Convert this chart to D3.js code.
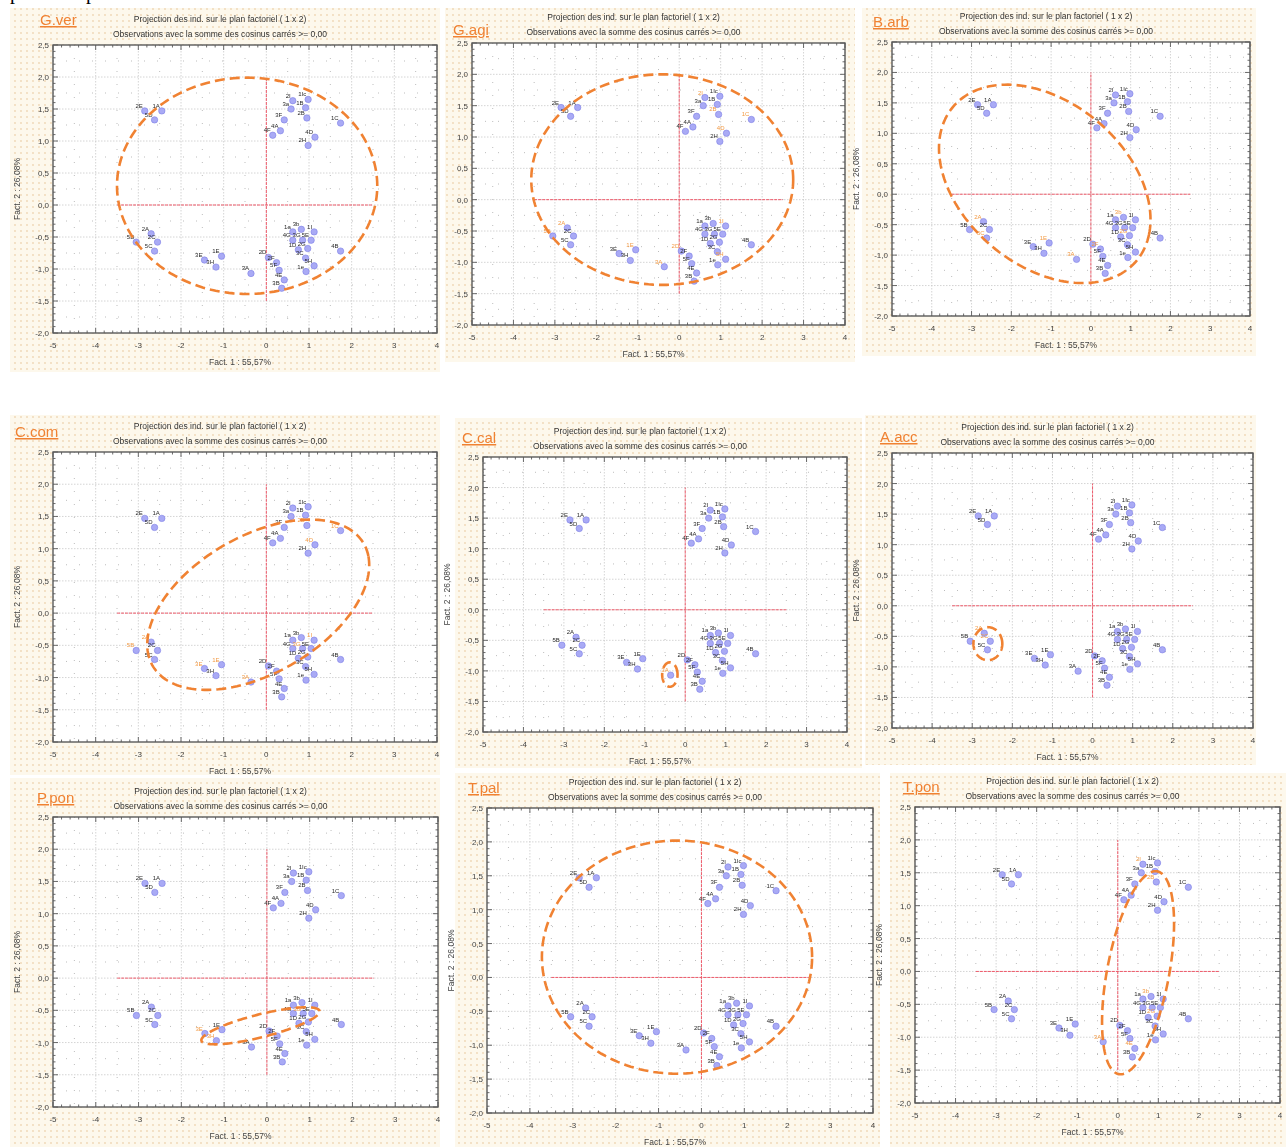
<!DOCTYPE html>
<html>
<head>
<meta charset="utf-8">
<script src="https://cdn.jsdelivr.net/npm/d3@7"></script>
<style>
  body { margin: 0; background: #fff; }
  svg { display: block; font-family: "Liberation Sans", Arial, sans-serif; }
</style>
</head>
<body>
<div id="chart"></div>
<script>
// species shown in each panel, left to right, top to bottom
const speciesNames = ["G.ver", "G.agi", "B.arb", "C.com", "C.cal", "A.acc", "P.pon", "T.pal", "T.pon"];

// individuals projected on the factorial plane (same in every panel)
const obsLabels = ["2E","1A","5D","4F","4A","2I","1Ic","3a","1B","3F","2B","4D","2H","1C",
                   "2A","2C","5C","5B","3E","1E","3H","3A","2D","2F","5F","4E","3B",
                   "1a","3b","1I","4G","3G","5E","1D","2G","3C","5H","1e","4B"];
const fact1 = [-2.85,-2.45,-2.62, 0.15, 0.33, 0.62, 0.98, 0.58, 0.92, 0.42, 0.95, 1.14, 0.98, 1.74,
               -2.70,-2.55,-2.62,-3.05,-1.45,-1.05,-1.18,-0.36, 0.05, 0.24, 0.30, 0.42, 0.36,
                0.62, 0.82, 1.12, 0.62, 0.85, 1.05, 0.75, 0.97, 0.92, 1.12, 0.93, 1.74];
const fact2 = [ 1.47, 1.47, 1.33, 1.09, 1.16, 1.63, 1.65, 1.50, 1.52, 1.33, 1.36, 1.06, 0.93, 1.28,
               -0.45,-0.58,-0.72,-0.58,-0.86,-0.80,-0.97,-1.07,-0.82,-0.90,-1.02,-1.17,-1.30,
               -0.42,-0.38,-0.42,-0.55,-0.55,-0.55,-0.70,-0.68,-0.83,-0.95,-1.04,-0.72];

// individuals whose labels are highlighted (orange) in each panel
const highlighted = [
  [],
  ["2I","1C","2B","4D","2A","5B","1E","3A","2D","1I","5H"],
  ["2A","5C","1E","3A","2F","3b","2G"],
  ["5B","2A","3E","1E","3A","1I","3G","2B","4D","1C"],
  ["3A"],
  ["2A","2C"],
  ["3E","3H","3G"],
  [],
  ["2I","2B","3b","2G","3A","4E"]
];

// dashed ellipse of each species (factor units, angle in degrees)
const ellipseCx    = [-0.45, -0.41, -1.16, -0.19, -0.38, -2.61, -0.15, -0.57, 0.50];
const ellipseCy    = [ 0.30,  0.32,  0.17,  0.13, -1.06, -0.62, -0.74,  0.30, -0.02];
const ellipseRx    = [ 3.05,  3.16,  2.75,  2.69,  0.19,  0.36,  1.40,  3.15, 1.62];
const ellipseRy    = [ 1.69,  1.68,  1.47,  1.13,  0.20,  0.27,  0.18,  1.72, 0.74];
const ellipseAngle = [ 0,     0,   -17.6,  16.3,   0,     0,     9.3,   0,   70.1];

// red axes through the origin
const originLineX = [-3.5, 2.5];
const originLineY = [-1.5, 2.0];

const xTicks = [-5, -4, -3, -2, -1, 0, 1, 2, 3, 4];
const yTicks = [2.5, 2.0, 1.5, 1.0, 0.5, 0.0, -0.5, -1.0, -1.5, -2.0];
const xDomain = [-5, 4];
const yDomain = [-2, 2.5];

const titleLine1 = "Projection des ind. sur le plan factoriel ( 1 x 2)";
const titleLine2 = "Observations avec la somme des cosinus carrés >= 0,00";
const xTitle = "Fact. 1 : 55,57%";
const yTitle = "Fact. 2 : 26,08%";

// where each panel sits on the page
const frames = [
  { l: 53,  t: 45,  r: 437,  b: 333,  bg: [10, 8, 430, 364],   name: [40, 25],   yTitle: true },
  { l: 472, t: 43,  r: 845,  b: 325,  bg: [445, 8, 410, 354],  name: [453, 35],  yTitle: false },
  { l: 892, t: 42,  r: 1250, b: 316,  bg: [862, 8, 394, 348],  name: [873, 27],  yTitle: true },
  { l: 53,  t: 452, r: 437,  b: 742,  bg: [10, 415, 430, 360], name: [15, 437],  yTitle: true },
  { l: 483, t: 457, r: 847,  b: 732,  bg: [455, 418, 407, 350],name: [462, 443], yTitle: true },
  { l: 892, t: 453, r: 1253, b: 728,  bg: [865, 415, 391, 350],name: [880, 442], yTitle: true },
  { l: 53,  t: 817, r: 438,  b: 1107, bg: [10, 778, 430, 369], name: [37, 803],  yTitle: true },
  { l: 487, t: 808, r: 873,  b: 1113, bg: [455, 773, 425, 374],name: [468, 793], yTitle: true },
  { l: 915, t: 807, r: 1280, b: 1103, bg: [890, 773, 396, 374],name: [903, 792], yTitle: true }
];

const width = 1286, height = 1147;
const orange = "#f08233";
const fr = d3.formatLocale({ decimal: ",", thousands: " ", grouping: [3], currency: ["", ""], minus: "-" });
const fmtY = fr.format(".1f");

const svg = d3.select("#chart").append("svg")
  .attr("width", width)
  .attr("height", height);

const defs = svg.append("defs");
let pat = defs.append("pattern")
  .attr("id", "bgdots")
  .attr("width", 6).attr("height", 6)
  .attr("patternUnits", "userSpaceOnUse");
pat.append("rect").attr("width", 6).attr("height", 6).attr("fill", "#fdf8ec");
pat.append("circle").attr("cx", 3).attr("cy", 3).attr("r", 0.9).attr("fill", "#efd6b4");
defs.append("filter").attr("id", "soft")
  .append("feGaussianBlur").attr("stdDeviation", 0.3);

// cut-off caption line at the very top
svg.append("text").attr("x", 10).attr("y", -1)
  .style("font-family", "Liberation Serif").style("font-size", "20px").text("p");
svg.append("text").attr("x", 86).attr("y", -1)
  .style("font-family", "Liberation Serif").style("font-size", "20px").text("p");

// panel backgrounds first so nothing gets hidden
frames.forEach(function(f) {
  svg.append("rect")
    .attr("x", f.bg[0]).attr("y", f.bg[1])
    .attr("width", f.bg[2]).attr("height", f.bg[3])
    .attr("fill", "url(#bgdots)");
});

function range(start, stop, step) {
  return d3.range(Math.round((stop - start) / step) + 1).map(i => +(start + i * step).toFixed(4));
}

function drawPanel(i) {
  const f = frames[i];
  const g = svg.append("g").attr("filter", "url(#soft)");
  const x = d3.scaleLinear().domain(xDomain).range([f.l, f.r]);
  const y = d3.scaleLinear().domain(yDomain).range([f.b, f.t]);
  const cx = (f.l + f.r) / 2;

  // white plotting area
  g.append("rect")
    .attr("x", f.l).attr("y", f.t)
    .attr("width", f.r - f.l).attr("height", f.b - f.t)
    .attr("fill", "#ffffff");

  // minor dotted grid
  range(-4.5, 3.5, 1).forEach(function(v) {
    g.append("line").attr("x1", x(v)).attr("x2", x(v)).attr("y1", f.t).attr("y2", f.b)
      .attr("stroke", "#bdbdbd").attr("stroke-width", 1).attr("stroke-dasharray", "1,12");
  });
  range(-1.75, 2.25, 0.5).forEach(function(v) {
    g.append("line").attr("x1", f.l).attr("x2", f.r).attr("y1", y(v)).attr("y2", y(v))
      .attr("stroke", "#bdbdbd").attr("stroke-width", 1).attr("stroke-dasharray", "1,12");
  });

  // major grid
  xTicks.slice(1).forEach(function(v) {
    g.append("line").attr("x1", x(v)).attr("x2", x(v)).attr("y1", f.t).attr("y2", f.b)
      .attr("stroke", "#c9c9c9").attr("stroke-width", 0.8).attr("stroke-dasharray", "1.5,1.5");
  });
  yTicks.slice(1, -1).forEach(function(v) {
    g.append("line").attr("x1", f.l).attr("x2", f.r).attr("y1", y(v)).attr("y2", y(v))
      .attr("stroke", "#c9c9c9").attr("stroke-width", 0.8).attr("stroke-dasharray", "1.5,1.5");
  });

  // red axes through the origin
  g.append("line")
    .attr("x1", x(originLineX[0])).attr("x2", x(originLineX[1]))
    .attr("y1", y(0)).attr("y2", y(0))
    .attr("stroke", "#ee5a6a").attr("stroke-width", 1).attr("stroke-dasharray", "3,1");
  g.append("line")
    .attr("x1", x(0)).attr("x2", x(0))
    .attr("y1", y(originLineY[0])).attr("y2", y(originLineY[1]))
    .attr("stroke", "#ee5a6a").attr("stroke-width", 1).attr("stroke-dasharray", "3,1");

  // frame with small inward ticks
  g.append("rect")
    .attr("x", f.l).attr("y", f.t)
    .attr("width", f.r - f.l).attr("height", f.b - f.t)
    .attr("fill", "none").attr("stroke", "#5a5a5a").attr("stroke-width", 1.4);
  range(-5, 4, 0.2).forEach(function(v) {
    let len = Math.abs(v - Math.round(v)) < 1e-6 ? 5 : 2.5;
    g.append("line").attr("x1", x(v)).attr("x2", x(v)).attr("y1", f.b).attr("y2", f.b - len)
      .attr("stroke", "#5a5a5a").attr("stroke-width", 0.9);
    g.append("line").attr("x1", x(v)).attr("x2", x(v)).attr("y1", f.t).attr("y2", f.t + len)
      .attr("stroke", "#5a5a5a").attr("stroke-width", 0.9);
  });
  range(-2, 2.5, 0.1).forEach(function(v) {
    let len = Math.abs(v * 2 - Math.round(v * 2)) < 1e-6 ? 5 : 2.5;
    g.append("line").attr("x1", f.l).attr("x2", f.l + len).attr("y1", y(v)).attr("y2", y(v))
      .attr("stroke", "#5a5a5a").attr("stroke-width", 0.9);
    g.append("line").attr("x1", f.r).attr("x2", f.r - len).attr("y1", y(v)).attr("y2", y(v))
      .attr("stroke", "#5a5a5a").attr("stroke-width", 0.9);
  });

  // tick labels
  g.selectAll(".xt").data(xTicks).enter().append("text")
    .attr("x", d => x(d)).attr("y", f.b + 15)
    .attr("text-anchor", "middle")
    .style("font-size", "8px").attr("fill", "#444")
    .text(d => d);
  g.selectAll(".yt").data(yTicks).enter().append("text")
    .attr("x", f.l - 4).attr("y", d => y(d) + 3)
    .attr("text-anchor", "end")
    .style("font-size", "8px").attr("fill", "#444")
    .text(d => fmtY(d));

  // titles
  g.append("text").attr("x", cx - 25).attr("y", f.t - 23)
    .attr("text-anchor", "middle").style("font-size", "8.5px").attr("fill", "#333")
    .text(titleLine1);
  g.append("text").attr("x", cx - 25).attr("y", f.t - 8)
    .attr("text-anchor", "middle").style("font-size", "8.5px").attr("fill", "#333")
    .text(titleLine2);
  g.append("text").attr("x", cx - 5).attr("y", f.b + 32)
    .attr("text-anchor", "middle").style("font-size", "8.5px").attr("fill", "#444")
    .text(xTitle);
  if (f.yTitle) {
    g.append("text")
      .attr("transform", `translate(${f.l - 33}, ${(f.t + f.b) / 2}) rotate(-90)`)
      .attr("text-anchor", "middle").style("font-size", "8.5px").attr("fill", "#444")
      .text(yTitle);
  }

  // species name, orange and underlined
  g.append("text").attr("x", f.name[0]).attr("y", f.name[1])
    .style("font-size", "15px").attr("fill", orange)
    .style("text-decoration", "underline")
    .text(speciesNames[i]);

  // individuals
  const hl = highlighted[i];
  obsLabels.forEach(function(lab, k) {
    g.append("circle")
      .attr("cx", x(fact1[k])).attr("cy", y(fact2[k])).attr("r", 3.2)
      .attr("fill", "#a9aaf5").attr("stroke", "#7d80e6").attr("stroke-width", 0.6);
  });
  obsLabels.forEach(function(lab, k) {
    g.append("text")
      .attr("x", x(fact1[k]) - 2).attr("y", y(fact2[k]) - 3)
      .attr("text-anchor", "end")
      .style("font-size", "6px")
      .attr("fill", hl.indexOf(lab) >= 0 ? "#f29a45" : "#2a2a2a")
      .text(lab);
  });

  // dashed ellipse
  const a = ellipseAngle[i] * Math.PI / 180;
  const pts = d3.range(0, 2 * Math.PI, Math.PI / 90).map(function(t) {
    let ex = ellipseRx[i] * Math.cos(t), ey = ellipseRy[i] * Math.sin(t);
    return [ellipseCx[i] + ex * Math.cos(a) - ey * Math.sin(a),
            ellipseCy[i] + ex * Math.sin(a) + ey * Math.cos(a)];
  });
  const line = d3.line()
    .x(d => x(d[0]))
    .y(d => y(d[1]))
    .curve(d3.curveLinearClosed);
  g.append("path")
    .attr("d", line(pts))
    .attr("fill", "none")
    .attr("stroke", orange)
    .attr("stroke-width", 2.6)
    .attr("stroke-dasharray", "10,5");
}

speciesNames.forEach(function(s, i) { drawPanel(i); });
</script>
</body>
</html>
